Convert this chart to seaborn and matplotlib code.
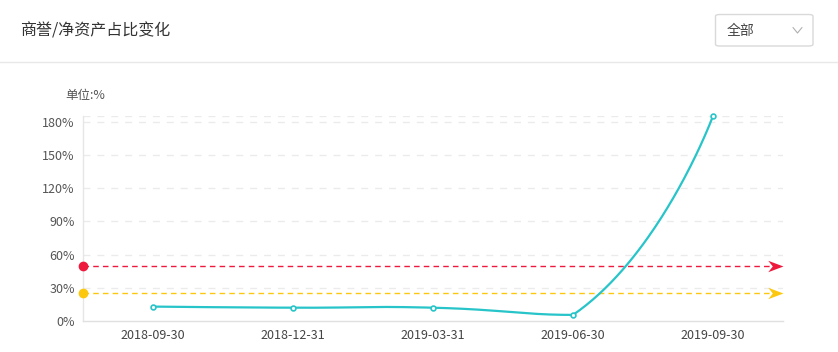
import numpy as np
import matplotlib
matplotlib.use("Agg")
import matplotlib.pyplot as plt
from matplotlib.path import Path
from matplotlib.patches import FancyBboxPatch
import seaborn as sns
import pandas as pd

# ---- data ----
categories = ["2018-09-30", "2018-12-31", "2019-03-31", "2019-06-30", "2019-09-30"]
ratio_values = [13.0, 12.0, 12.0, 5.5, 185.0]
red_line_value = 50.0
yellow_line_value = 25.0
y_ticks = [0, 30, 60, 90, 120, 150, 180]
title_text = "商誉/净资产占比变化"
unit_text = "单位:%"
dropdown_text = "全部"

sns.set_theme(style="white")
plt.rcParams["font.family"] = ["Noto Sans CJK SC", "DejaVu Sans"]

W, H = 838, 352
fig = plt.figure(figsize=(W / 100, H / 100), dpi=100)
fig.patch.set_facecolor("white")

def fx(px):
    return px / W

def fy(py):
    return 1 - py / H

ax = fig.add_axes([fx(83), fy(321), fx(783) - fx(83), fy(116) - fy(321)])
ax.set_facecolor("white")

n = len(categories)
xs = np.arange(n)
ax.set_xlim(-0.5, n - 0.5)
ax.set_ylim(0, max(ratio_values))

# grid lines (dashed)
for t in y_ticks[1:] + [max(ratio_values)]:
    ax.axhline(t, color="#ebebeb", lw=1, ls=(0, (5, 5)), zorder=0)

# smooth curve (echarts-style bezier smoothing in display space)
pts = ax.transData.transform(np.column_stack([xs, ratio_values]))
smooth = 0.5
bmin = pts.min(axis=0)
bmax = pts.max(axis=0)
segs = []
cp0 = pts[0].copy()
for i in range(1, n):
    p = pts[i]
    prev = pts[i - 1]
    if i < n - 1:
        nxt = pts[i + 1]
        v = nxt - prev
        lp = np.hypot(*(p - prev))
        ln = np.hypot(*(nxt - p))
        r = ln / (ln + lp)
        cp1 = p - v * smooth * (1 - r)
        next_cp0 = p + v * smooth * r
    else:
        cp1 = p.copy()
        next_cp0 = p.copy()
    c0 = np.clip(cp0, bmin, bmax)
    c1 = np.clip(cp1, bmin, bmax)
    segs.append((prev, c0, c1, p))
    cp0 = next_cp0

tt = np.linspace(0, 1, 80)[:, None]
curve = np.vstack([((1 - tt) ** 3) * a + 3 * ((1 - tt) ** 2) * tt * b + 3 * (1 - tt) * tt ** 2 * c + tt ** 3 * d
                   for a, b, c, d in segs])
curve_d = ax.transData.inverted().transform(curve)
teal = "#27c4c9"
ax.plot(curve_d[:, 0], curve_d[:, 1], color=teal, lw=1.6, zorder=3, solid_capstyle="round")

df = pd.DataFrame({"x": xs, "y": ratio_values})
sns.scatterplot(data=df, x="x", y="y", ax=ax, s=12, color="white", edgecolor=teal,
                linewidth=1.2, zorder=4, clip_on=False, legend=False)

# mark lines with arrows
arrow_path = Path([(0, 0), (-2, 0.75), (-1.4, 0), (-2, -0.75), (0, 0)],
                  [Path.MOVETO, Path.LINETO, Path.LINETO, Path.LINETO, Path.CLOSEPOLY])
for val, col in [(red_line_value, "#ee1a3e"), (yellow_line_value, "#fcc80f")]:
    ax.plot([-0.5, n - 0.5 - 0.08], [val, val], color=col, lw=1, ls=(0, (4, 3)), zorder=2, clip_on=False)
    ax.plot([-0.5], [val], marker="o", ms=6, color=col, mec=col, zorder=5, clip_on=False)
    ax.plot([n - 0.5], [val], marker=arrow_path, ms=22, color=col, mec=col, mew=0, zorder=5, clip_on=False)

# axes styling
for side in ["top", "right"]:
    ax.spines[side].set_visible(False)
ax.spines["left"].set_color("#e6e6e6")
ax.spines["bottom"].set_color("#e0e0e0")
ax.spines["left"].set_linewidth(1)
ax.spines["bottom"].set_linewidth(1)

ax.set_yticks(y_ticks)
ax.set_yticklabels([f"{v}%" for v in y_ticks], fontsize=9, color="#555555")
ax.tick_params(axis="y", length=0, pad=6)
ax.set_xticks(xs)
ax.set_xticklabels(categories, fontsize=9, color="#444444")
ax.set_xticks(np.arange(n + 1) - 0.5, minor=True)
ax.tick_params(axis="x", which="major", length=0, pad=6)
ax.tick_params(axis="x", which="minor", length=5, color="#e0e0e0", width=1)
ax.set_xlabel("")
ax.set_ylabel("")

# header
fig.text(fx(20), fy(31), title_text, fontsize=11.5, color="#333333", va="center", ha="left")
fig.add_artist(plt.Line2D([0, 1], [fy(62), fy(62)], color="#e8e8e8", lw=1, transform=fig.transFigure))
box = FancyBboxPatch((fx(715.5), fy(46)), fx(813) - fx(715.5), fy(14.5) - fy(46),
                     boxstyle="round,pad=0,rounding_size=0.005", transform=fig.transFigure,
                     facecolor="white", edgecolor="#d9d9d9", lw=1)
fig.add_artist(box)
fig.text(fx(727), fy(30.5), dropdown_text, fontsize=10, color="#444444", va="center", ha="left")
fig.add_artist(plt.Line2D([fx(793), fx(797.5), fx(802)], [fy(27.5), fy(33), fy(27.5)],
                          color="#b0b0b0", lw=0.8, transform=fig.transFigure))
fig.text(fx(65), fy(96), unit_text, fontsize=9, color="#555555", va="center", ha="left")

fig.savefig("out.png", dpi=100, facecolor="white")
